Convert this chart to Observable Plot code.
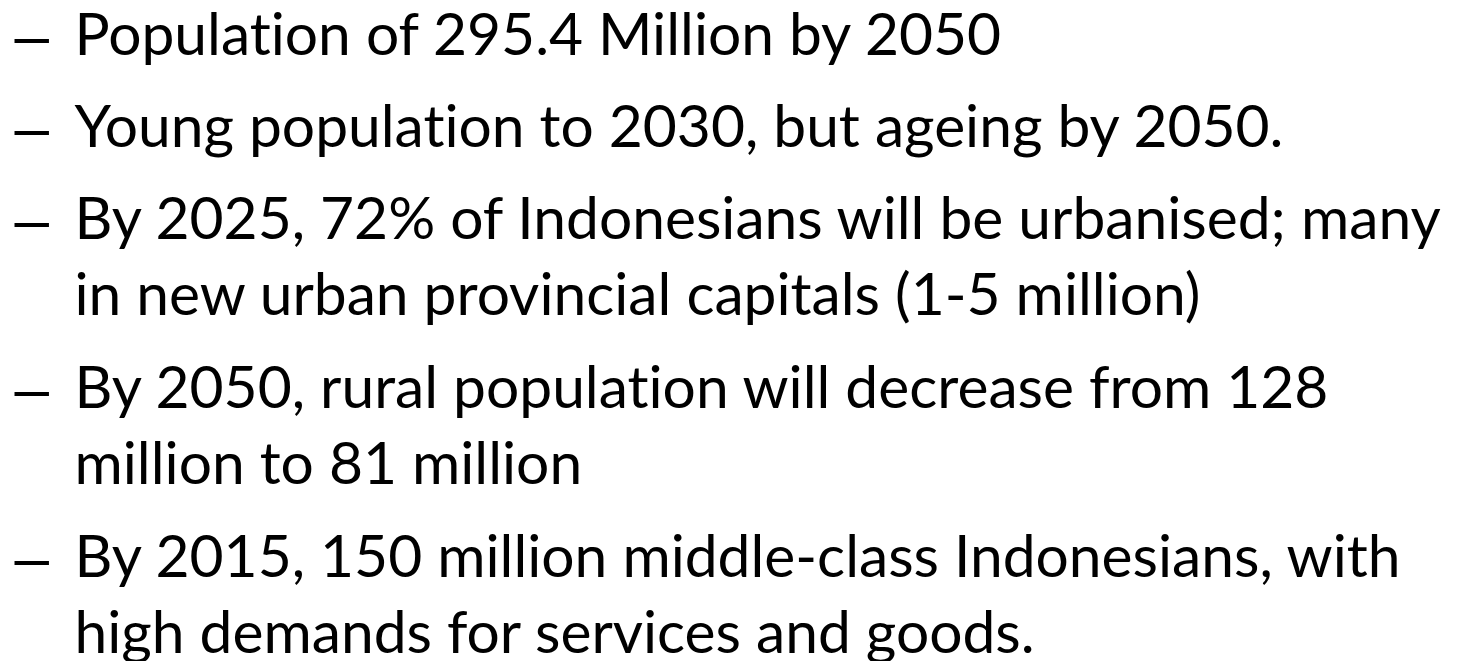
<!DOCTYPE html>
<html>
<head>
<meta charset="utf-8">
<script src="https://cdn.jsdelivr.net/npm/d3@7"></script>
<script src="https://cdn.jsdelivr.net/npm/@observablehq/plot@0.6"></script>
<style>
  html, body { margin: 0; padding: 0; background: #fff; }
  #chart svg { display: block; }
  #chart text { font-variant-ligatures: none; font-feature-settings: "liga" 0; }
</style>
</head>
<body>
<div id="chart"></div>
<script>
// Bullet paragraphs (text as shown in the slide, wrapped as in the picture)
const paragraphs = [
  ["Population of 295.4 Million by 2050"],
  ["Young population to 2030, but ageing by 2050."],
  ["By 2025, 72% of Indonesians will be urbanised; many",
   "in new urban provincial capitals (1-5 million)"],
  ["By 2050, rural population will decrease from 128",
   "million to 81 million"],
  ["By 2015, 150 million middle-class Indonesians, with",
   "high demands for services and goods."]
];
const bulletSymbol = "\u2013";

// layout constants
const W = 1457, H = 661;
const firstBaseline = 54, lineStep = 77, paraStep = 92;
const dashX = 14, textX = 74;
const fontSize = 58.7, dashSize = 62;
const fontFamily = "Lato";

const rows = [];
let y = firstBaseline;
paragraphs.forEach((p) => {
  rows.push({text: p.join("\n"), y});
  y += paraStep + (p.length - 1) * lineStep;
});

const chart = Plot.plot({
  width: W, height: H,
  margin: 0,
  x: {domain: [0, W], range: [0, W], axis: null},
  y: {domain: [0, H], range: [0, H], axis: null},
  style: {fontFamily, background: "#fff"},
  marks: [
    Plot.text(rows, {
      x: () => dashX, y: "y", text: () => bulletSymbol,
      textAnchor: "start", lineAnchor: "top", dy: -0.71 * dashSize + 2,
      fontSize: dashSize, fontFamily: "Liberation Sans", fill: "#000"
    }),
    Plot.text(rows, {
      x: () => textX, y: "y", text: "text",
      textAnchor: "start", lineAnchor: "top", dy: -0.71 * lineStep,
      lineHeight: lineStep / fontSize,
      fontSize, fill: "#000"
    })
  ]
});
document.getElementById("chart").appendChild(chart);
</script>
</body>
</html>
